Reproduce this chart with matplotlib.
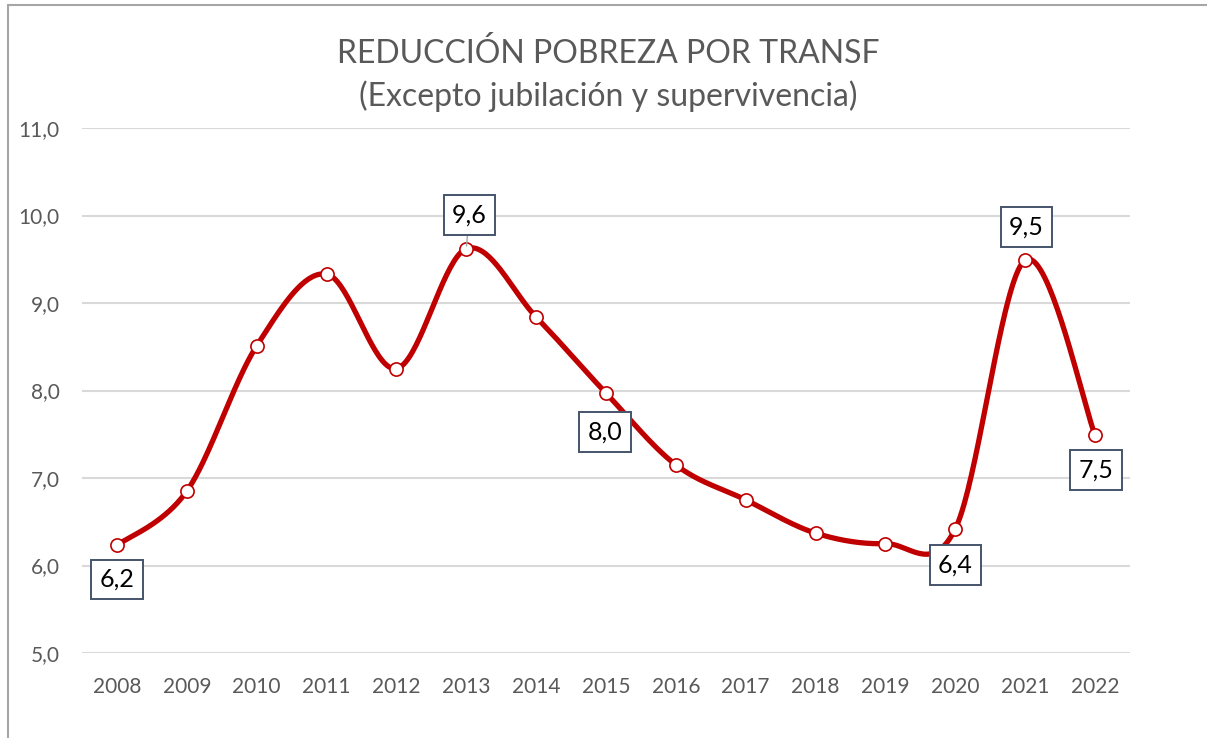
import numpy as np
import matplotlib
matplotlib.use("Agg")
import matplotlib.pyplot as plt
from matplotlib.patches import Rectangle

years = ["2008", "2009", "2010", "2011", "2012", "2013", "2014", "2015",
         "2016", "2017", "2018", "2019", "2020", "2021", "2022"]
values = [6.23, 6.85, 8.51, 9.33, 8.25, 9.62, 8.84, 7.97,
          7.15, 6.75, 6.37, 6.25, 6.42, 9.49, 7.49]
yticks = [5.0, 6.0, 7.0, 8.0, 9.0, 10.0, 11.0]
title = "REDUCCIÓN POBREZA POR TRANSF\n(Excepto jubilación y supervivencia)"

# labelled points: index -> pixel offset of the label box
label_offsets = {0: (0, -34), 5: (3, 34), 7: (-1, -39), 12: (0, -36), 13: (1, 33), 14: (1, -35)}

plt.rcParams['font.family'] = ['Lato', 'DejaVu Sans']

fig = plt.figure(figsize=(12.07, 7.38), dpi=100)
fig.patches.append(Rectangle((8/1207, -0.1), 1.2, (738-5)/738 + 0.1,
                             transform=fig.transFigure, fill=False,
                             edgecolor='#a6a6a6', linewidth=1.5, zorder=0))
ax = fig.add_axes([82/1207, 1-653/738, 1048/1207, (653-128)/738])

x = np.arange(len(values))
y = np.array(values)

# Excel-style smooth curve (Catmull-Rom Bezier)
def smooth(xs, ys, n=40):
    px, py = [], []
    N = len(xs)
    for i in range(N - 1):
        p0 = np.array([xs[max(i-1, 0)], ys[max(i-1, 0)]])
        p1 = np.array([xs[i], ys[i]])
        p2 = np.array([xs[i+1], ys[i+1]])
        p3 = np.array([xs[min(i+2, N-1)], ys[min(i+2, N-1)]])
        c1 = p1 + (p2 - p0) / 6
        c2 = p2 - (p3 - p1) / 6
        t = np.linspace(0, 1, n)[:, None]
        b = ((1-t)**3)*p1 + 3*((1-t)**2)*t*c1 + 3*(1-t)*t**2*c2 + t**3*p2
        px.extend(b[:, 0]); py.extend(b[:, 1])
    return np.array(px), np.array(py)

sx, sy = smooth(x, y)
ax.plot(sx, sy, color='#c00000', linewidth=3.8, solid_capstyle='round', zorder=3)
ax.plot(x, y, linestyle='none', marker='o', markersize=9.5, markerfacecolor='white',
        markeredgecolor='#c00000', markeredgewidth=1.2, zorder=4)

ax.set_xlim(-0.5, len(values) - 0.5)
ax.set_ylim(5.0, 11.0)
ax.set_yticks(yticks)
ax.set_yticklabels([f"{v:.1f}".replace('.', ',') for v in yticks])
ax.set_xticks(x)
ax.set_xticklabels(years)
ax.grid(axis='y', color='#d9d9d9', linewidth=1.5, zorder=0)
ax.set_axisbelow(True)
for s in ax.spines.values():
    s.set_visible(False)
ax.tick_params(axis='both', length=0, labelsize=15, labelcolor='#595959')
ax.tick_params(axis='y', pad=16)
ax.tick_params(axis='x', pad=17)

for i, (dx, dy) in label_offsets.items():
    txt = f"{values[i]:.1f}".replace('.', ',')
    kw = {}
    if i == 5:
        kw['arrowprops'] = dict(arrowstyle='-', color='#a6a6a6', lw=1, shrinkA=0, shrinkB=2)
    ax.annotate(txt, (x[i], y[i]), xytext=(dx, dy), textcoords='offset pixels',
                ha='center', va='center', fontsize=18, color='black', zorder=5,
                bbox=dict(boxstyle='square,pad=0.33', facecolor='white',
                          edgecolor='#44546a', linewidth=1.4), **kw)

fig.text(608/1207, 1-75/738, title, ha='center', va='center', fontsize=23,
         color='#595959', linespacing=1.45)

fig.savefig('out.png', dpi=100)
